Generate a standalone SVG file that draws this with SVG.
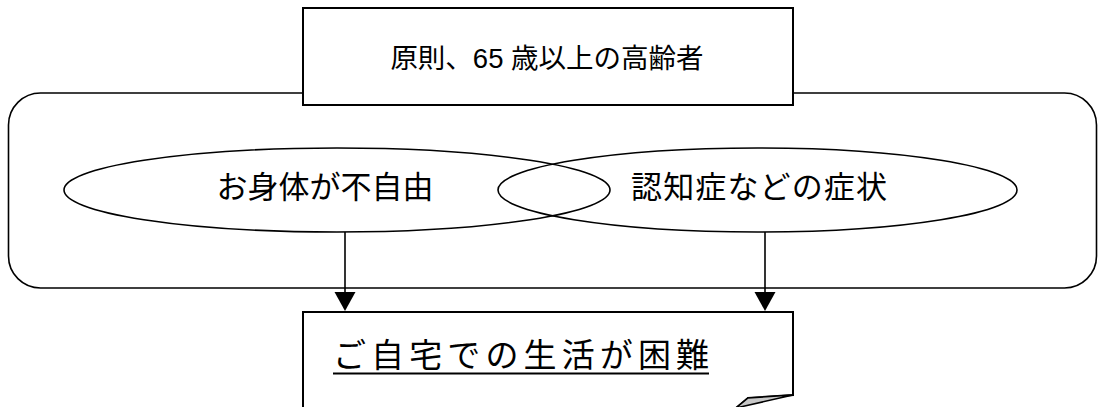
<svg xmlns="http://www.w3.org/2000/svg" width="1098" height="407" viewBox="0 0 1098 407">
<style>
.ln{fill:none;stroke:#000;stroke-width:1.6}
.bx{fill:#fff;stroke:#000;stroke-width:2}
.ah{fill:#000;stroke:none}
.t{font-family:"Liberation Sans","Noto Sans CJK JP",sans-serif;fill:#000}
</style>
<rect width="1098" height="407" fill="#fff"/>
<g id="frame">
<rect x="8.5" y="93" width="1088" height="195" rx="32" ry="32" class="ln"/>
</g>
<g id="top">
<rect x="303" y="8" width="490" height="97" class="bx"/>
<text x="547" y="68" class="t" font-size="27.5" text-anchor="middle">原則、65 歳以上の高齢者</text>
</g>
<g id="body">
<ellipse cx="337" cy="190" rx="273" ry="42" class="ln"/>
<text x="325" y="198" class="t" font-size="31" text-anchor="middle">お身体が不自由</text>
</g>
<g id="dementia">
<ellipse cx="757.5" cy="190" rx="259.5" ry="42" class="ln"/>
<text x="631" y="198" class="t" font-size="31" textLength="256" lengthAdjust="spacing">認知症などの症状</text>
</g>
<g id="connectors">
<path d="M345,232 L345,293" class="ln"/>
<path d="M334.5,292 L355.5,292 L345,311 Z" class="ah"/>
<path d="M765,232 L765,293" class="ln"/>
<path d="M754.5,292 L775.5,292 L765,311 Z" class="ah"/>
</g>
<g id="difficult">
<path d="M303,408 L303,312 L793,312 L793,395 L748,398 L736,408" class="bx"/>
<path d="M736,408 L748,398 L793,395 Z" fill="#c8c8c8" stroke="#000" stroke-width="1.5"/>
<text x="333" y="367" class="t" font-size="33" textLength="376" lengthAdjust="spacing">ご自宅での生活が困難</text>
<line x1="333" y1="373.5" x2="709" y2="373.5" stroke="#000" stroke-width="2"/>
</g>
</svg>
